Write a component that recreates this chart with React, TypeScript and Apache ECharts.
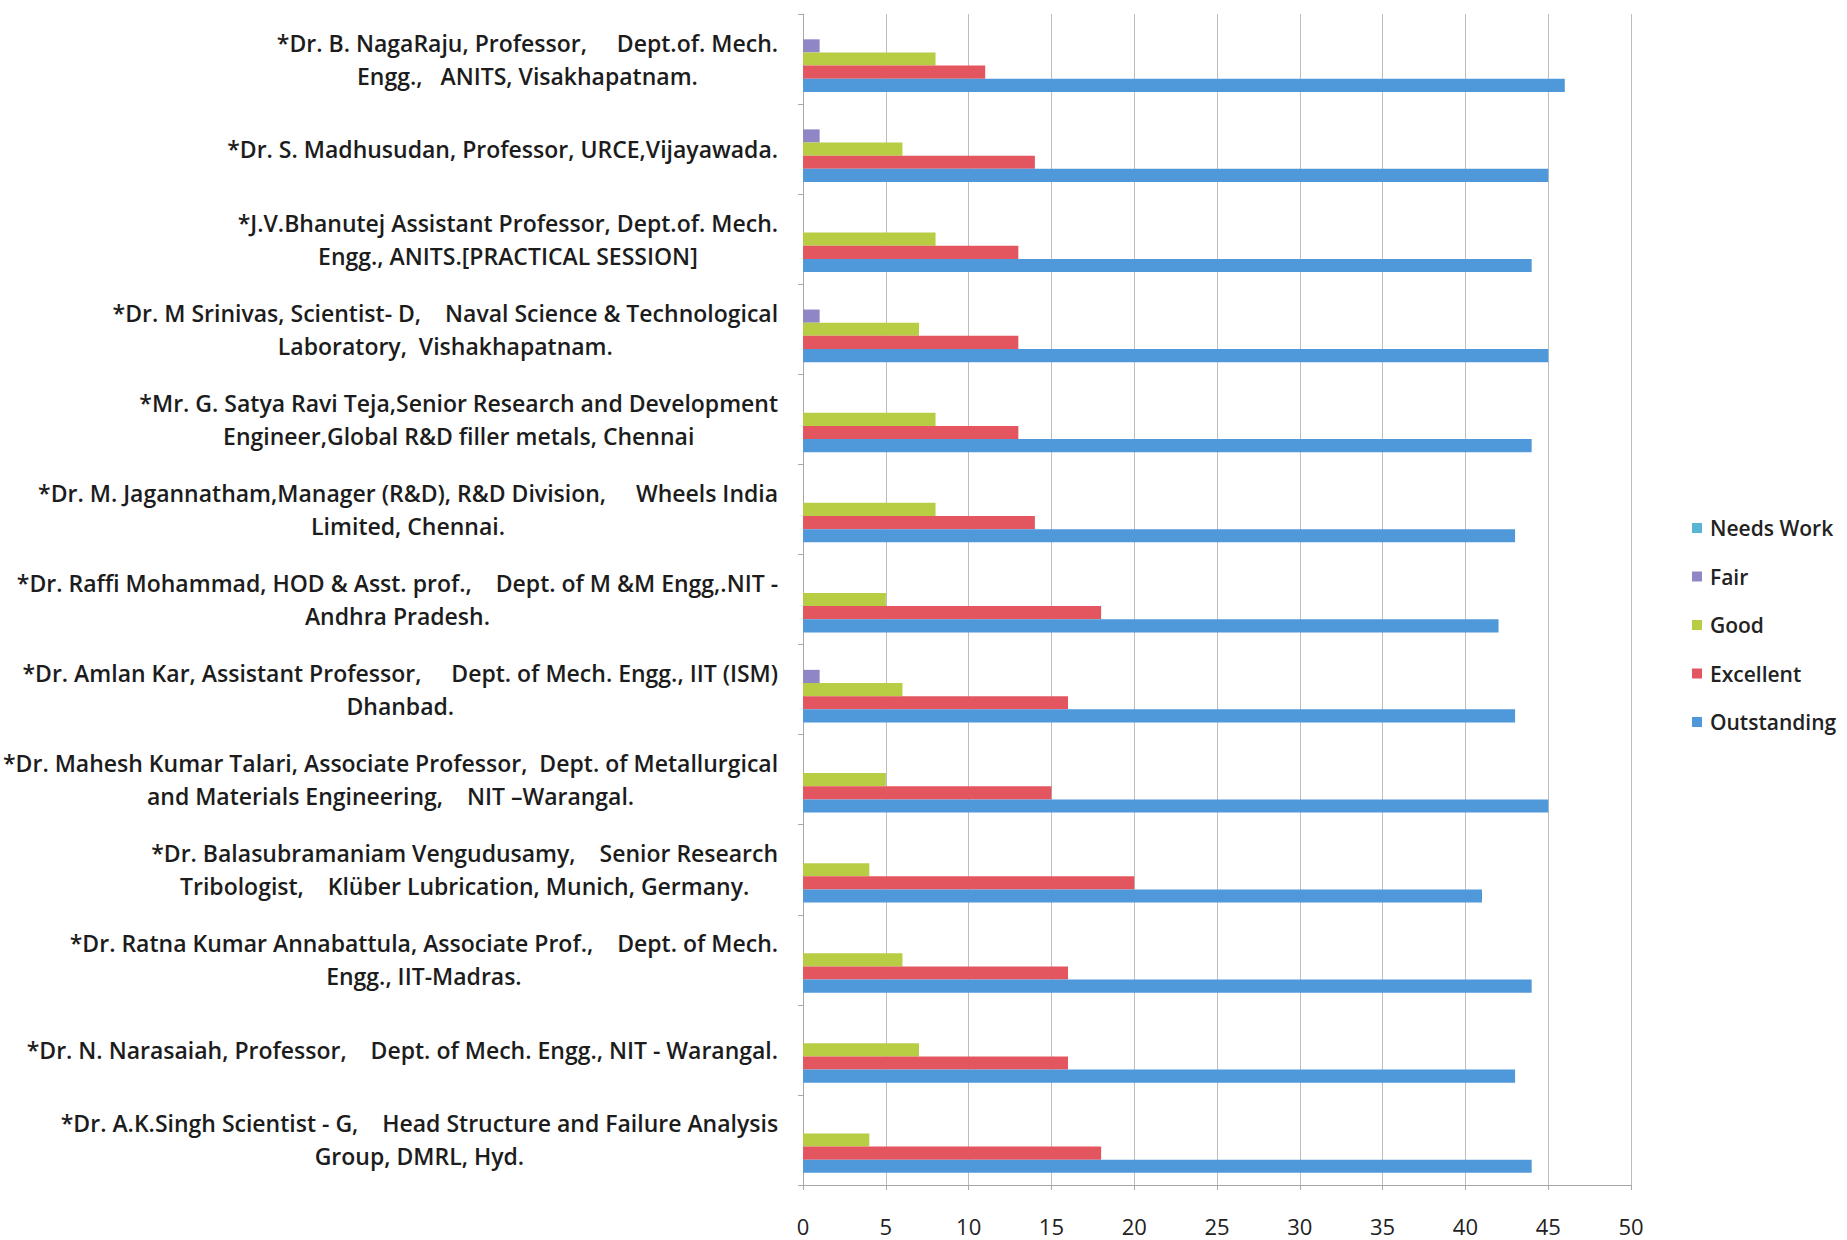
import React, { useEffect, useRef } from "react";
import * as echarts from "echarts";

const categories: string[] = [
  "*Dr. B. NagaRaju, Professor,     Dept.of. Mech.\nEngg.,   ANITS, Visakhapatnam.",
  "*Dr. S. Madhusudan, Professor, URCE,Vijayawada.",
  "*J.V.Bhanutej Assistant Professor, Dept.of. Mech.\nEngg., ANITS.[PRACTICAL SESSION]",
  "*Dr. M Srinivas, Scientist- D,    Naval Science & Technological\nLaboratory,  Vishakhapatnam.",
  "*Mr. G. Satya Ravi Teja,Senior Research and Development\nEngineer,Global R&D filler metals, Chennai",
  "*Dr. M. Jagannatham,Manager (R&D), R&D Division,     Wheels India\nLimited, Chennai.",
  "*Dr. Raffi Mohammad, HOD & Asst. prof.,    Dept. of M &M Engg,.NIT -\nAndhra Pradesh.",
  "*Dr. Amlan Kar, Assistant Professor,     Dept. of Mech. Engg., IIT (ISM)\nDhanbad.",
  "*Dr. Mahesh Kumar Talari, Associate Professor,  Dept. of Metallurgical\nand Materials Engineering,    NIT \u2013Warangal.",
  "*Dr. Balasubramaniam Vengudusamy,    Senior Research\nTribologist,    Kl\u00fcber Lubrication, Munich, Germany.",
  "*Dr. Ratna Kumar Annabattula, Associate Prof.,    Dept. of Mech.\nEngg., IIT-Madras.",
  "*Dr. N. Narasaiah, Professor,    Dept. of Mech. Engg., NIT - Warangal.",
  "*Dr. A.K.Singh Scientist - G,    Head Structure and Failure Analysis\nGroup, DMRL, Hyd.",
];

const seriesNames: string[] = ["Needs Work", "Fair", "Good", "Excellent", "Outstanding"];

const needsWork: number[] = [0, 0, 0, 0, 0, 0, 0, 0, 0, 0, 0, 0, 0];
const fair: number[] = [1, 1, 0, 1, 0, 0, 0, 1, 0, 0, 0, 0, 0];
const good: number[] = [8, 6, 8, 7, 8, 8, 5, 6, 5, 4, 6, 7, 4];
const excellent: number[] = [11, 14, 13, 13, 13, 14, 18, 16, 15, 20, 16, 16, 18];
const outstanding: number[] = [46, 45, 44, 45, 44, 43, 42, 43, 45, 41, 44, 43, 44];

const colors: string[] = ["#5ab4d3", "#8f86c6", "#b8cc44", "#e35660", "#4f98da"];

const FONT = "'Open Sans', sans-serif";

export default function App() {
  const ref = useRef<HTMLDivElement>(null);
  useEffect(() => {
    if (!ref.current) return;
    const chart = echarts.init(ref.current, undefined, { renderer: "svg" });
    const dataSets = [needsWork, fair, good, excellent, outstanding];
    chart.setOption({
      animation: false,
      backgroundColor: "#ffffff",
      grid: { left: 800, top: 14, right: 216, bottom: 55, containLabel: false },
      legend: {
        orient: "vertical",
        left: 1692,
        top: 516,
        padding: 0,
        itemWidth: 10,
        itemHeight: 10,
        itemGap: 24.5,
        icon: "rect",
        data: seriesNames,
        textStyle: {
          fontFamily: FONT,
          fontSize: 21,
          fontWeight: 600,
          lineHeight: 24,
          color: "#222",
          padding: [0, 0, 0, 3],
        },
      },
      xAxis: {
        type: "value",
        min: 0,
        max: 50,
        interval: 5,
        axisLine: { show: true, lineStyle: { color: "#a8a8a8", width: 1 } },
        axisTick: { show: true, length: 5, lineStyle: { color: "#a8a8a8" } },
        splitLine: { show: true, lineStyle: { color: "#bdbdbd", width: 1 } },
        axisLabel: {
          margin: 30,
          fontFamily: FONT,
          fontSize: 22,
          lineHeight: 22,
          color: "#222",
        },
      },
      yAxis: {
        type: "category",
        inverse: true,
        data: categories,
        axisLine: { show: true, lineStyle: { color: "#a8a8a8", width: 1 } },
        axisTick: { show: true, length: 5, lineStyle: { color: "#a8a8a8" } },
        axisLabel: {
          margin: 25,
          interval: 0,
          formatter: (v: string) =>
            v
              .split("\n")
              .map((l) => "{a|" + l + "}")
              .join("\n"),
          rich: {
            a: {
              fontFamily: FONT,
              fontSize: 23,
              fontWeight: 600,
              lineHeight: 33,
              color: "#1c1c1c",
              align: "center",
            },
          },
        },
      },
      series: seriesNames.map((name, i) => ({
        name,
        type: "bar",
        data: dataSets[i],
        barGap: "0%",
        barCategoryGap: "27%",
        itemStyle: { color: colors[i] },
      })),
    });
    return () => chart.dispose();
  }, []);
  return (
    <div
      ref={ref}
      style={{ position: "fixed", left: 0, top: 0, width: 1847, height: 1240 }}
    />
  );
}
